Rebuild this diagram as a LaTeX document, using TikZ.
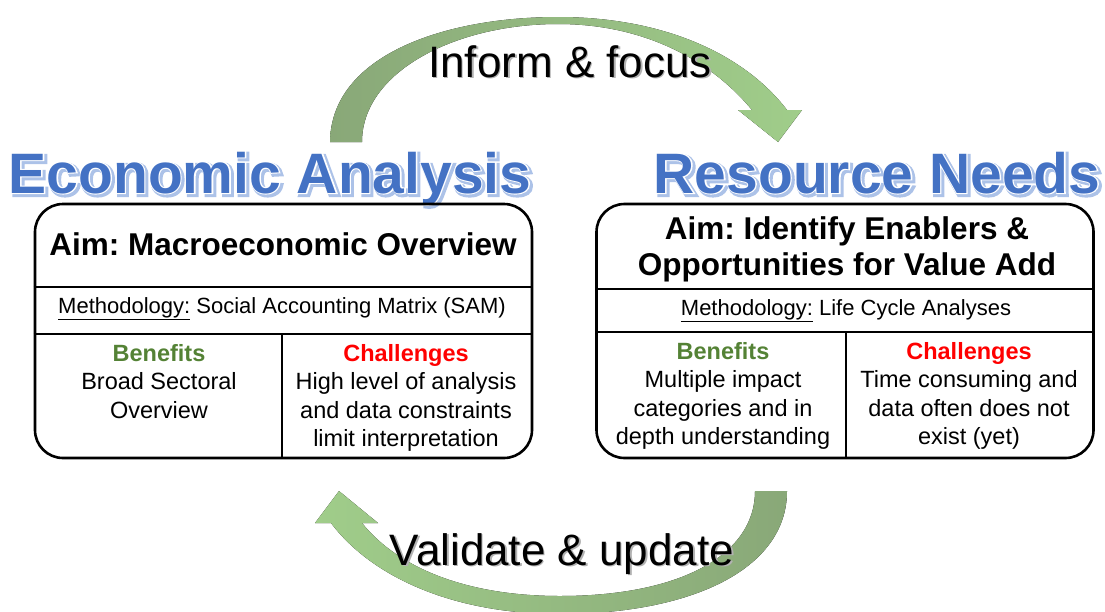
\documentclass[tikz,border=0pt]{standalone}
\usepackage{fontspec}
\setmainfont{Liberation Sans}
\newfontfamily\glowfont{Liberation Sans}[BoldFeatures={FakeBold=7}]
\newfontfamily\halofont{Liberation Sans}[BoldFeatures={FakeBold=3.5}]
\usepackage{xcolor}
\usepackage{tikz}
\usetikzlibrary{positioning, calc}
\definecolor{titleblue}{RGB}{68,114,196}
\definecolor{titleglow}{RGB}{172,194,232}
\definecolor{arrowdark}{RGB}{137,168,120}
\definecolor{arrowlight}{RGB}{160,205,138}
\definecolor{benefitgreen}{RGB}{84,130,53}
\definecolor{challengered}{RGB}{255,0,0}
\newcommand{\glowtitle}[1]{\rlap{\kern2pt\lower2pt\hbox{\glowfont\bfseries\color{titleglow}#1}}\rlap{\halofont\bfseries\color{white}#1}{\bfseries\color{titleblue}#1}}
\tikzstyle{panel} = [rectangle, rounded corners=28pt, draw=black, line width=2.6pt, minimum width=497pt, minimum height=254pt]
\tikzstyle{divider} = [line width=1.3pt]
\tikzstyle{bigtitle} = [font=\fontsize{57}{60}\selectfont]
\tikzstyle{aim} = [font=\bfseries\fontsize{31.5}{36}\selectfont\frenchspacing, align=center]
\tikzstyle{method} = [font=\fontsize{22}{26}\selectfont]
\tikzstyle{column} = [font=\fontsize{23.5}{28.5}\selectfont, align=center]
\tikzstyle{loopword} = [font=\fontsize{44}{50}\selectfont]

\begin{document}
\begin{tikzpicture}[x=1pt, y=-1pt, inner sep=0pt]
        \useasboundingbox (0,0) rectangle (1105,611);

        % Loop arrows
        \fill [left color=arrowdark, right color=arrowlight] (330,142) .. controls (331,55) and (445,17) .. (558,17) .. controls (665,17) and (745,55) .. (787,110) -- (802,110) -- (778,142) -- (738,110) -- (752,110) .. controls (715,65) and (650,24) .. (558,24) .. controls (455,24) and (362,72) .. (362,142) -- cycle;
        \fill [left color=arrowlight, right color=arrowdark] (787,491) .. controls (787,570) and (690,614) .. (560,614) .. controls (450,614) and (370,575) .. (331,523) -- (315,523) -- (339,491) -- (378,523) -- (362,523) .. controls (400,570) and (470,596) .. (560,596) .. controls (680,596) and (755,555) .. (755,491) -- cycle;

        % Loop labels
        \node (inform) [loopword, anchor=base] at (570,77) {\rlap{\kern1.5pt\lower1.5pt\hbox{\color{black!30}Inform \& focus}}Inform \& focus};
        \node (validate) [loopword, anchor=base] at (562,565) {\rlap{\kern1.5pt\lower1.5pt\hbox{\color{black!30}Validate \& update}}Validate \& update};

        % Titles
        \node (econ_title) [bigtitle, anchor=base] at (270,193) {\glowtitle{Economic Analysis}};
        \node (res_title) [bigtitle, anchor=base] at (877,193) {\glowtitle{Resource Needs}};

        % Economic analysis panel
        \node (econ_box) [panel] at (283.5,331) {};
        \draw [divider] (econ_box.west |- 0,287) -- (econ_box.east |- 0,287);
        \draw [divider] (econ_box.west |- 0,334) -- (econ_box.east |- 0,334);
        \draw [divider] (282,334) -- (econ_box.south -| 282,0);
        \node (econ_aim) [aim, anchor=base] at (283,255) {Aim: Macroeconomic Overview};
        \node (econ_method) [method, anchor=base] at (282,313) {\underline{Methodology:} Social Accounting Matrix (SAM)};
        \node (econ_benefits) [column, anchor=north] at (159,344) {\textcolor{benefitgreen}{\bfseries Benefits}\\Broad Sectoral\\Overview};
        \node (econ_challenges) [column, anchor=north] at (406,344) {\textcolor{challengered}{\bfseries Challenges}\\High level of analysis\\and data constraints\\limit interpretation};

        % Resource needs panel
        \node (res_box) [panel] at (845,331) {};
        \draw [divider] (res_box.west |- 0,289) -- (res_box.east |- 0,289);
        \draw [divider] (res_box.west |- 0,332) -- (res_box.east |- 0,332);
        \draw [divider] (846,332) -- (res_box.south -| 846,0);
        \node (res_aim) [aim, anchor=north] at (847,216) {Aim: Identify Enablers \&\\Opportunities for Value Add};
        \node (res_method) [method, anchor=base] at (846,315) {\underline{Methodology:} Life Cycle Analyses};
        \node (res_benefits) [column, anchor=north] at (723,342) {\textcolor{benefitgreen}{\bfseries Benefits}\\Multiple impact\\categories and in\\depth understanding};
        \node (res_challenges) [column, anchor=north] at (969,342) {\textcolor{challengered}{\bfseries Challenges}\\Time consuming and\\data often does not\\exist (yet)};
      \end{tikzpicture}
\end{document}
